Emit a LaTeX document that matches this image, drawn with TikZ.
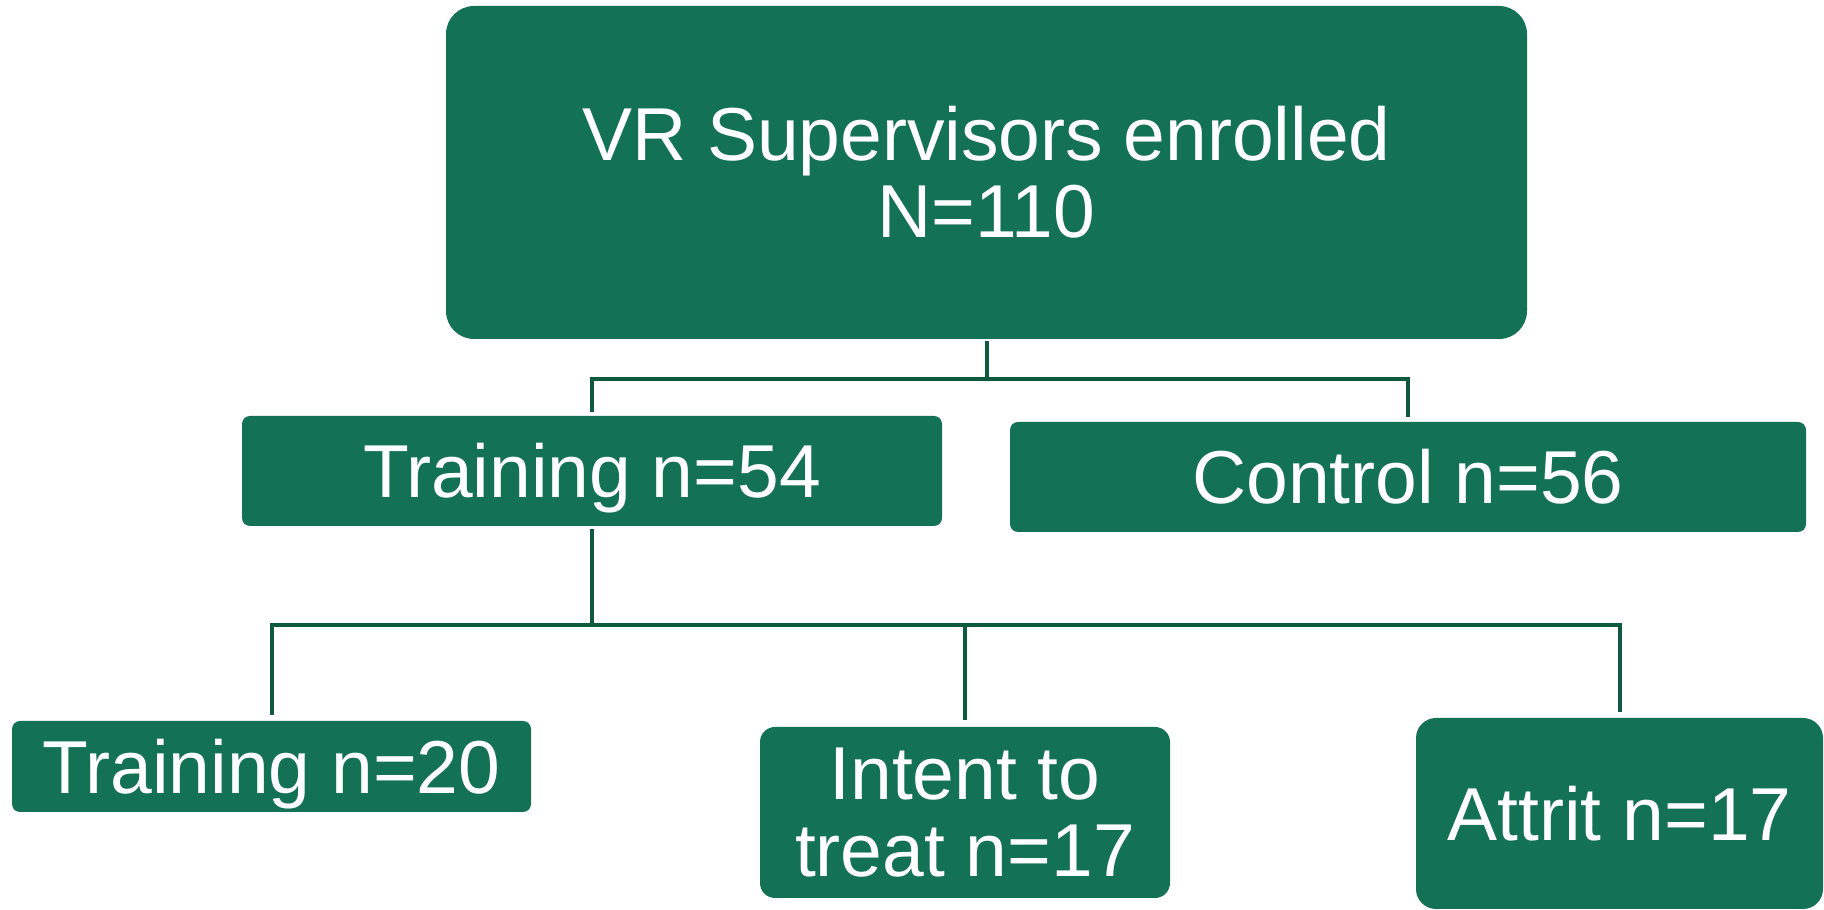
\documentclass[tikz,border=0pt]{standalone}
\usepackage{fontspec}
\setmainfont{Liberation Sans}
\usepackage{xcolor}
\definecolor{boxgreen}{RGB}{20,114,84}
\definecolor{linkgreen}{RGB}{14,90,62}
\tikzset{greenbox/.style={rectangle, rounded corners=8pt, fill=boxgreen, text=white, align=center, inner sep=0pt, font=\fontsize{75}{77}\selectfont},
oneline/.style={text height=54pt, text depth=0pt},
link/.style={draw=linkgreen, line width=4pt}}

\begin{document}
\begin{tikzpicture}
        \useasboundingbox (0pt, 0pt) rectangle (1824pt, 910pt);
        % Boxes
        \node[greenbox, rounded corners=28pt, minimum width=1081pt, minimum height=333pt] (enrolled) at (986.5pt, 737.5pt) {VR Supervisors enrolled\\N=110};
        \node[greenbox, oneline, minimum width=700pt, minimum height=110pt] (training) at (592pt, 439pt) {Training n=54};
        \node[greenbox, oneline, minimum width=796pt, minimum height=110pt] (control) at (1408pt, 433pt) {Control n=56};
        \node[greenbox, oneline, minimum width=519pt, minimum height=91pt] (trained) at (271.5pt, 143.5pt) {Training n=20};
        \node[greenbox, rounded corners=15pt, minimum width=410pt, minimum height=171pt] (itt) at (965pt, 97.5pt) {Intent to\\treat n=17};
        \node[greenbox, oneline, rounded corners=20pt, minimum width=407pt, minimum height=191pt] (attrit) at (1619.5pt, 96.5pt) {Attrit n=17};
        % Links, first split
        \coordinate (fork1) at ([yshift=-40pt]enrolled.south);
        \draw[link, shorten <=2pt] (enrolled.south) -- (fork1);
        \draw[link, shorten >=4pt] (fork1) -| (training.north);
        \draw[link, shorten >=5pt] (fork1) -| (control.north);
        % Links, second split
        \coordinate (fork2) at ([yshift=-99pt]training.south);
        \draw[link, shorten <=3pt] (training.south) -- (fork2);
        \draw[link, shorten >=6pt] (fork2) -| (trained.north);
        \draw[link, shorten >=7pt] (fork2) -| (itt.north);
        \draw[link, shorten >=6pt] (fork2) -| (attrit.north);
\end{tikzpicture}
\end{document}
